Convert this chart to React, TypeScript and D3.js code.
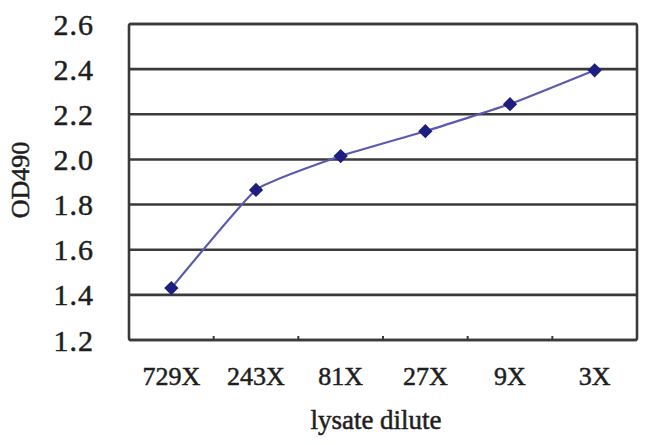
import React from "react";
import * as d3 from "d3";

const categories = ["729X", "243X", "81X", "27X", "9X", "3X"];
const values = [1.43, 1.865, 2.015, 2.125, 2.245, 2.395];
const yTicks = [1.2, 1.4, 1.6, 1.8, 2.0, 2.2, 2.4, 2.6];

const W = 650, H = 445;
const L = 129, R = 637, T = 24, B = 340;

export default function App() {
  const x = d3.scaleBand<string>().domain(categories).range([L, R]).padding(0);
  const y = d3.scaleLinear().domain([1.2, 2.6]).range([B, T]);
  const pts: [number, number][] = values.map((v, i) => [x(categories[i])! + x.bandwidth() / 2, y(v)]);
  const line = d3.line().curve(d3.curveCardinal.tension(0.65))(pts) || "";
  const diamond = d3.symbol().type(d3.symbolDiamond2).size(130)() || "";
  const font = "'Liberation Serif', 'Times New Roman', serif";
  const txt = "#1e1e1e";
  const sw = 0.5;
  return (
    <svg width={W} height={H} style={{ position: "absolute", left: 0, top: 0, background: "#fff" }}>
      <rect x={0} y={0} width={W} height={H} fill="#fff" />
      {yTicks.map((t) => (
        <line key={t} x1={L} x2={R} y1={y(t)} y2={y(t)} stroke="#3a3a3a" strokeWidth={2.6} />
      ))}
      <rect x={L} y={T} width={R - L} height={B - T} fill="none" stroke="#3a3a3a" strokeWidth={2.6} rx={2} />
      {categories.slice(1).map((c) => (
        <line key={c} x1={x(c)!} x2={x(c)!} y1={B} y2={B - 4} stroke="#3a3a3a" strokeWidth={2} />
      ))}
      {yTicks.map((t) => (
        <text key={t} x={94} y={y(t)} dy="0.35em" textAnchor="end" fontFamily={font} fontSize={30} fill={txt} stroke={txt} strokeWidth={sw} letterSpacing={1}>
          {t.toFixed(1)}
        </text>
      ))}
      {categories.map((c) => (
        <text key={c} x={x(c)! + x.bandwidth() / 2} y={376} dy="0.35em" textAnchor="middle" fontFamily={font} fontSize={26} fill={txt} stroke={txt} strokeWidth={sw}>
          {c}
        </text>
      ))}
      <text x={376} y={420} dy="0.35em" textAnchor="middle" fontFamily={font} fontSize={27} fill={txt} stroke={txt} strokeWidth={sw}>
        lysate dilute
      </text>
      <text transform={`translate(20,180) rotate(-90)`} textAnchor="middle" dy="0.35em" fontFamily={font} fontSize={26} fill={txt} stroke={txt} strokeWidth={sw}>
        OD490
      </text>
      <path d={line} fill="none" stroke="#5a5ab0" strokeWidth={2.2} />
      {pts.map((p, i) => (
        <path key={i} d={diamond} transform={`translate(${p[0]},${p[1]})`} fill="#1e1e80" />
      ))}
    </svg>
  );
}
